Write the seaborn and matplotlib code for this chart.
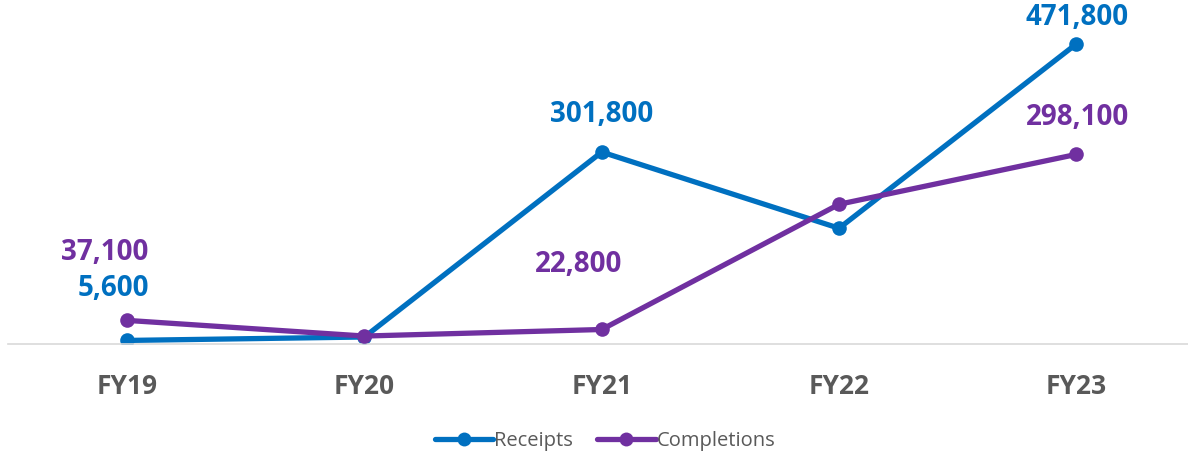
import matplotlib
matplotlib.use("Agg")
import matplotlib.pyplot as plt
import seaborn as sns
import pandas as pd
from matplotlib.lines import Line2D

years = ["FY19", "FY20", "FY21", "FY22", "FY23"]
receipts = [5600, 11000, 301800, 182000, 471800]
completions = [37100, 12500, 22800, 219700, 298100]
series_names = ["Receipts", "Completions"]
colors = ["#0070C0", "#7030A0"]

# labelled points: (series, year index, text, dx px, dy px)
labels = [
    ("Receipts", 0, "5,600", -14, 52),
    ("Completions", 0, "37,100", -22, 68),
    ("Receipts", 2, "301,800", 0, 38),
    ("Completions", 2, "22,800", -23, 65),
    ("Receipts", 4, "471,800", 1, 26),
    ("Completions", 4, "298,100", 1, 37),
]

sns.set_theme(style="white")
plt.rcParams["font.family"] = ["Open Sans", "DejaVu Sans"]

df = pd.DataFrame({
    "year": years * 2,
    "x": list(range(len(years))) * 2,
    "value": receipts + completions,
    "series": ["Receipts"] * len(years) + ["Completions"] * len(years),
})

fig = plt.figure(figsize=(11.88, 4.55), dpi=100)
ax = fig.add_axes([8 / 1188, (455 - 344) / 455, 1187 / 1188, 318 / 455])

palette = dict(zip(series_names, colors))
for name in series_names:
    sub = df[df["series"] == name]
    sns.lineplot(data=sub, x="x", y="value", color=palette[name], lw=3.8,
                 marker="o", markersize=10.5, markeredgewidth=0, ax=ax,
                 legend=False, zorder=3 if name == "Completions" else 2)

ax.set_xlim(-0.502, 4.5)
ax.set_ylim(0, 500000)
ax.set_xticks(range(len(years)))
ax.set_xticklabels(years)
ax.set_yticks([])
ax.set_xlabel("")
ax.set_ylabel("")
for s in ["top", "right", "left"]:
    ax.spines[s].set_visible(False)
ax.spines["bottom"].set_color("#D9D9D9")
ax.spines["bottom"].set_linewidth(1.2)
ax.tick_params(axis="x", length=0, pad=21, labelsize=19, labelcolor="#595959")
for t in ax.get_xticklabels():
    t.set_fontweight("bold")

data_map = {"Receipts": receipts, "Completions": completions}
for name, i, txt, dx, dy in labels:
    ax.annotate(txt, xy=(i, data_map[name][i]), xytext=(dx, dy),
                textcoords="offset pixels", ha="center", va="center",
                fontsize=20, fontweight="bold", color=palette[name],
                annotation_clip=False)

handles = [Line2D([0], [0], color=c, lw=3.8, marker="o", markersize=10,
                  markeredgewidth=0) for c in colors]
leg = fig.legend(handles, series_names, loc="center", bbox_to_anchor=(605 / 1188, 1 - 441 / 455),
                 ncol=2, frameon=False, fontsize=14.5, handlelength=2.9,
                 handletextpad=0.05, columnspacing=1.2, labelcolor="#595959")

fig.savefig("out.png", dpi=100)
